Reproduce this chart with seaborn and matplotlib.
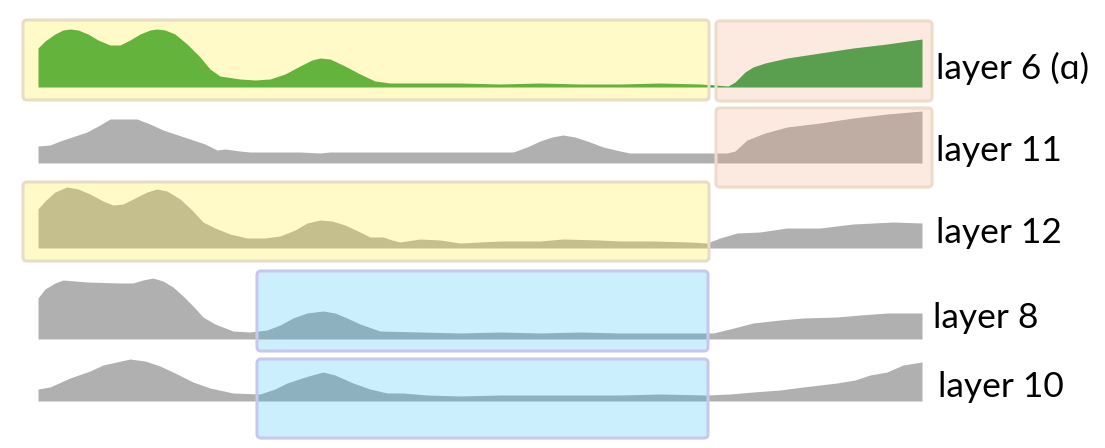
import numpy as np
import matplotlib
matplotlib.use("Agg")
import matplotlib.pyplot as plt
import seaborn as sns
from matplotlib.patches import FancyBboxPatch

sns.set_theme(style="white")
plt.rcParams['font.family'] = ['Lato', 'DejaVu Sans']

# profile positions and heights, one pair per layer
l6_pos = [38, 45, 55, 63, 70, 78, 88, 98, 110, 120, 130, 140, 150, 157, 165, 175, 187, 200, 210,
          220, 240, 255, 270, 285, 300, 312, 320, 330, 345, 360, 375, 390, 420, 460, 500, 540, 580,
          620, 660, 700, 715, 728, 735, 745, 753, 765, 787, 820, 853, 887, 922]
l6_val = [39, 46, 53, 57, 58, 57, 53, 47, 42, 42, 47, 53, 57, 58, 57, 53, 43, 30, 18,
          11, 8, 7, 8, 13, 21, 27, 29, 28, 21, 13, 6, 4, 4, 4, 3, 4, 3,
          3, 4, 3, 2, 1, 5, 15, 20, 24, 29, 34, 39, 43, 48]

l11_pos = [38, 50, 60, 75, 87, 100, 110, 137, 150, 163, 187, 205, 217, 225, 240, 250, 300, 320, 330,
           350, 400, 450, 480, 513, 527, 540, 552, 563, 575, 590, 603, 620, 630, 680, 727, 735, 747,
           765, 787, 820, 853, 887, 922]
l11_val = [17, 18, 22, 27, 31, 38, 44, 44, 39, 33, 25, 19, 13, 14, 12, 11, 11, 10, 11,
           11, 11, 11, 11, 11, 16, 22, 26, 28, 26, 21, 16, 12, 10, 10, 10, 12, 23,
           30, 36, 40, 45, 49, 52]

l12_pos = [38, 45, 55, 67, 78, 90, 103, 113, 123, 135, 147, 157, 167, 180, 192, 203, 215, 230, 247,
           265, 280, 295, 307, 320, 332, 345, 358, 370, 383, 392, 400, 420, 440, 460, 500, 540, 563,
           600, 620, 653, 690, 707, 720, 737, 760, 787, 820, 853, 893, 922]
l12_val = [39, 47, 56, 61, 59, 54, 47, 43, 44, 50, 56, 59, 57, 49, 38, 26, 20, 14, 10,
           10, 12, 18, 25, 28, 27, 23, 17, 11, 11, 8, 6, 9, 8, 5, 7, 7, 9,
           8, 7, 7, 6, 5, 10, 15, 16, 20, 20, 24, 26, 25]

l8_pos = [38, 45, 55, 63, 75, 87, 120, 133, 143, 153, 163, 173, 183, 193, 203, 215, 233, 250, 267,
          280, 293, 307, 323, 335, 347, 360, 380, 420, 460, 500, 540, 580, 620, 660, 700, 713, 730,
          753, 780, 803, 837, 860, 887, 922]
l8_val = [41, 50, 56, 59, 58, 57, 56, 56, 59, 61, 58, 52, 43, 33, 22, 15, 8, 7, 9,
          14, 21, 26, 28, 26, 21, 15, 8, 7, 6, 7, 6, 7, 6, 6, 6, 6, 10,
          16, 19, 21, 22, 24, 26, 26]

l10_pos = [38, 50, 70, 90, 103, 130, 145, 160, 175, 193, 210, 233, 260, 275, 287, 305, 323, 335, 353,
           370, 387, 403, 427, 460, 500, 540, 580, 620, 660, 707, 730, 753, 780, 803, 837, 855, 870,
           887, 903, 922]
l10_val = [12, 14, 23, 30, 36, 42, 40, 35, 28, 19, 13, 8, 7, 12, 18, 24, 29, 26, 18,
           12, 8, 8, 6, 5, 6, 6, 6, 6, 7, 6, 7, 9, 11, 14, 18, 21, 26,
           29, 36, 39]

layer_names = ["layer 6 (ɑ)", "layer 11", "layer 12", "layer 8", "layer 10"]

W, H = 1105, 448
fig = plt.figure(figsize=(W / 100, H / 100), dpi=100)

# (positions, values, colour, baseline in px from top, label x, label y)
layers = [
    (l6_pos, l6_val, "#2f9f45", 87, 936, 68),
    (l11_pos, l11_val, "#b0b0b0", 163, 936, 151),
    (l12_pos, l12_val, "#b0b0b0", 248, 936, 233),
    (l8_pos, l8_val, "#b0b0b0", 339, 933, 318),
    (l10_pos, l10_val, "#b0b0b0", 401, 938, 387),
]

band_h = 64
for i, (pos, val, col, base, lx, ly) in enumerate(layers):
    ax = fig.add_axes([38 / W, (H - base) / H, 884 / W, band_h / H], zorder=1)
    xs = np.array(pos)
    ys = np.array(val)
    ax.fill_between(xs, 0, ys, color=col, linewidth=0)
    ax.set_xlim(38, 922)
    ax.set_ylim(0, band_h)
    ax.axis("off")

# highlight boxes and labels, drawn in pixel space on top
ov = fig.add_axes([0, 0, 1, 1], zorder=2)
ov.set_xlim(0, W)
ov.set_ylim(H, 0)
ov.axis("off")
ov.patch.set_alpha(0)

boxes = [
    # x0, y0, x1, y1, fill, alpha, edge
    (23, 20, 709, 100, (1.0, 0.93, 0.16), 0.26, "#e8dcc5"),
    (716, 21, 932, 101, (0.96, 0.62, 0.45), 0.22, "#ecdcc8"),
    (716, 108, 932, 187, (0.96, 0.62, 0.45), 0.22, "#ecdcc8"),
    (23, 182, 709, 261, (1.0, 0.93, 0.16), 0.26, "#e8dcc5"),
    (257, 271, 708, 351, (0.07, 0.71, 0.97), 0.21, "#c8c8ec"),
    (257, 359, 708, 438, (0.07, 0.71, 0.97), 0.21, "#c8c8ec"),
]
for x0, y0, x1, y1, fc, a, ec in boxes:
    ov.add_patch(FancyBboxPatch((x0, y0), x1 - x0, y1 - y0,
                                boxstyle="round,pad=0,rounding_size=4",
                                facecolor=(*fc, a), edgecolor=ec, linewidth=2.2))

for name, (pos, val, col, base, lx, ly) in zip(layer_names, layers):
    ov.text(lx, ly, name, fontsize=25.5, color="black", ha="left", va="center")

fig.savefig("out.png", dpi=100)
